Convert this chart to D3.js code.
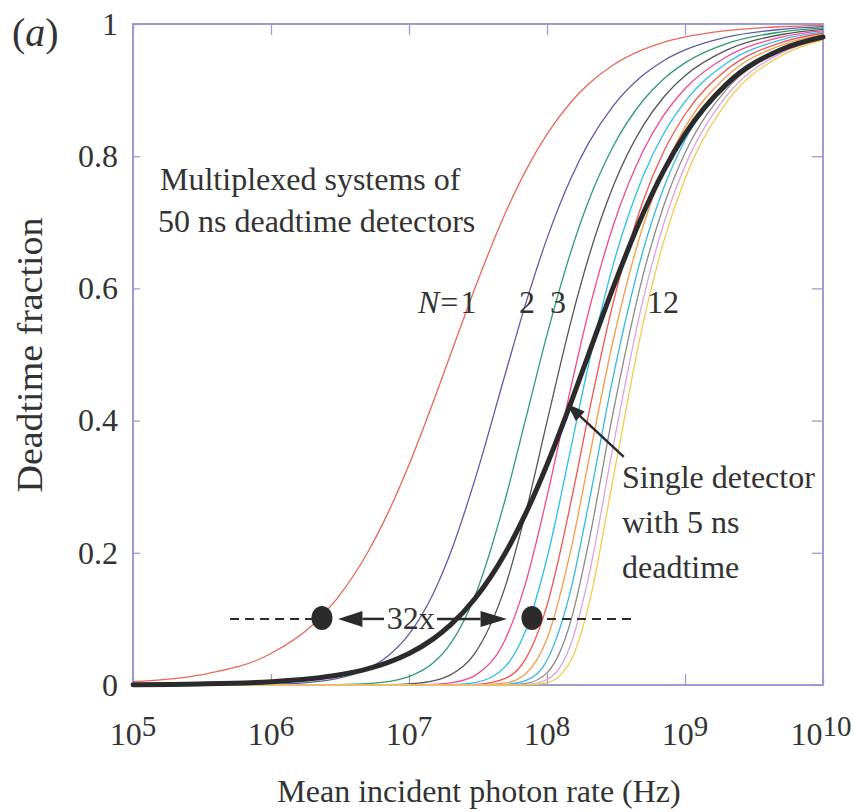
<!DOCTYPE html>
<html>
<head>
<meta charset="utf-8">
<script src="https://cdn.jsdelivr.net/npm/d3@7"></script>
<style>
  body { margin: 0; background: #fff; }
  svg text { font-family: "Liberation Serif", "Times New Roman", serif; fill: #333; }
</style>
</head>
<body>
<svg id="chart" width="854" height="812"></svg>
<script>
// rates sampled along the x axis (Hz)
const rates = [1e5, 3e5, 1e6, 2e6, 3e6, 5e6, 7e6, 1e7, 1.5e7, 2e7, 3e7, 5e7, 7e7,
  1e8, 1.5e8, 2e8, 3e8, 5e8, 7e8, 1e9, 2e9, 5e9, 1e10];

// deadtime fraction for N multiplexed 50 ns detectors, N = 1..12
const n1 = [0.0050, 0.0148, 0.0476, 0.0909, 0.1304, 0.2000, 0.2593, 0.3333, 0.4286, 0.5000, 0.6000, 0.7143, 0.7778,
  0.8333, 0.8824, 0.9091, 0.9375, 0.9615, 0.9722, 0.9804, 0.9901, 0.9960, 0.9980];
const n2 = [0, 0.0001, 0.0012, 0.0045, 0.0097, 0.0244, 0.0434, 0.0769, 0.1385, 0.2000, 0.3103, 0.4717, 0.5765,
  0.6757, 0.7679, 0.8197, 0.8755, 0.9232, 0.9445, 0.9608, 0.9802, 0.9920, 0.9960];
const n3 = [0, 0, 0, 0.0002, 0.0005, 0.0020, 0.0050, 0.0127, 0.0335, 0.0625, 0.1343, 0.2822, 0.4021,
  0.5297, 0.6575, 0.7321, 0.8140, 0.8850, 0.9168, 0.9412, 0.9703, 0.9880, 0.9940];
const n4 = [0, 0, 0, 0, 0, 0.0001, 0.0004, 0.0016, 0.0062, 0.0154, 0.0480, 0.1499, 0.2603,
  0.3983, 0.5521, 0.6467, 0.7533, 0.8469, 0.8892, 0.9217, 0.9604, 0.9841, 0.9920];
const n5 = [0, 0, 0, 0, 0, 0, 0, 0.0002, 0.0009, 0.0031, 0.0142, 0.0697, 0.1541,
  0.2849, 0.4530, 0.5640, 0.6932, 0.8090, 0.8616, 0.9021, 0.9505, 0.9801, 0.9900];
const n6 = [0, 0, 0, 0, 0, 0, 0, 0, 0.0001, 0.0005, 0.0035, 0.0282, 0.0825,
  0.1918, 0.3615, 0.4845, 0.6341, 0.7712, 0.8340, 0.8826, 0.9406, 0.9761, 0.9880];
const n7 = [0, 0, 0, 0, 0, 0, 0, 0, 0, 0.0001, 0.0008, 0.0100, 0.0396,
  0.1205, 0.2792, 0.4090, 0.5761, 0.7336, 0.8066, 0.8631, 0.9307, 0.9721, 0.9860];
const n8 = [0, 0, 0, 0, 0, 0, 0, 0, 0, 0, 0.0001, 0.0031, 0.0170,
  0.0700, 0.2075, 0.3383, 0.5193, 0.6963, 0.7792, 0.8436, 0.9208, 0.9681, 0.9840];
const n9 = [0, 0, 0, 0, 0, 0, 0, 0, 0, 0, 0, 0.0009, 0.0066,
  0.0375, 0.1474, 0.2732, 0.4639, 0.6592, 0.7519, 0.8242, 0.9110, 0.9641, 0.9820];
const n10 = [0, 0, 0, 0, 0, 0, 0, 0, 0, 0, 0, 0.0002, 0.0023,
  0.0184, 0.0995, 0.2146, 0.4103, 0.6223, 0.7246, 0.8047, 0.9011, 0.9602, 0.9800];
const n11 = [0, 0, 0, 0, 0, 0, 0, 0, 0, 0, 0, 0, 0.0007,
  0.0083, 0.0636, 0.1632, 0.3588, 0.5858, 0.6975, 0.7853, 0.8912, 0.9562, 0.9780];
const n12 = [0, 0, 0, 0, 0, 0, 0, 0, 0, 0, 0, 0, 0.0002,
  0.0034, 0.0382, 0.1197, 0.3096, 0.5496, 0.6704, 0.7659, 0.8813, 0.9522, 0.9760];
// single detector with 5 ns deadtime
const single5ns = [0.0005, 0.0015, 0.0050, 0.0099, 0.0148, 0.0244, 0.0338, 0.0476, 0.0698, 0.0909, 0.1304, 0.2000, 0.2593,
  0.3333, 0.4286, 0.5000, 0.6000, 0.7143, 0.7778, 0.8333, 0.9091, 0.9615, 0.9804];

const multiplexed = [n1, n2, n3, n4, n5, n6, n7, n8, n9, n10, n11, n12];
const curveColors = ["#e8675c", "#5c5cab", "#2f9c6c", "#555555", "#f0488e", "#2cbdf0",
  "#f25252", "#f59a48", "#36b6ea", "#8a8a8a", "#dba3dc", "#f7c850"];

const xExponents = [5, 6, 7, 8, 9, 10];
const yTicks = [0, 0.2, 0.4, 0.6, 0.8, 1];

// 32x comparison markers
const dotRates = [2.34e6, 7.78e7];
const dotLevel = 0.1;
const dashRange = [5.05e5, 4.35e8];
const arrowTips = [3.06e6, 5.13e7];
const arrowInner = [4.6e6, 3.3e7];
const ratioRate = 1.03e7;
// pointer to the 5 ns curve
const pointerFrom = [3.6e8, 0.345];
const pointerTo = [1.4e8, 0.425];

const margin = { top: 24, right: 31, bottom: 127, left: 133 },
  width = 854 - margin.left - margin.right,
  height = 812 - margin.top - margin.bottom;

const svg = d3.select("#chart");
const g = svg.append("g").attr("transform", `translate(${margin.left},${margin.top})`);

const x = d3.scaleLog().domain([1e5, 1e10]).range([0, width]);
const y = d3.scaleLinear().domain([0, 1]).range([height, 0]);

const frameColor = "#9c9ccf";

// ticks (inward, on all four sides)
const decades = xExponents.map(e => Math.pow(10, e));
g.append("g").attr("transform", `translate(0,${height})`)
  .call(d3.axisBottom(x).tickValues(decades).tickSize(-11).tickFormat(""));
g.append("g")
  .call(d3.axisTop(x).tickValues(decades).tickSize(-11).tickFormat(""));
g.append("g")
  .call(d3.axisLeft(y).tickValues(yTicks).tickSize(-7).tickPadding(15)
    .tickFormat(d => (d === 0 || d === 1) ? d : d3.format(".1f")(d)));
g.append("g").attr("transform", `translate(${width},0)`)
  .call(d3.axisRight(y).tickValues(yTicks).tickSize(-11).tickFormat(""));

g.selectAll(".domain").remove();
g.selectAll(".tick line").attr("stroke", frameColor).attr("stroke-width", 1.3);
g.selectAll(".tick text").attr("font-size", 32).attr("fill", "#333")
  .attr("font-family", "Liberation Serif, Times New Roman, serif");

g.append("rect")
  .attr("width", width).attr("height", height)
  .attr("fill", "none").attr("stroke", frameColor).attr("stroke-width", 2);

// x tick labels 10^n
const xl = g.selectAll(".xlab").data(xExponents).enter()
  .append("text")
  .attr("class", "xlab")
  .attr("x", d => x(Math.pow(10, d)) + (d === 10 ? -2 : 0))
  .attr("y", height + 60)
  .attr("text-anchor", "middle")
  .attr("font-size", 32);
xl.append("tspan").text("10");
xl.append("tspan").attr("dy", -9).attr("font-size", 29).text(d => d);

// curves
const line = d3.line()
  .x((d, i) => x(rates[i]))
  .y(d => y(d))
  .curve(d3.curveMonotoneX);

g.selectAll(".mux").data(multiplexed).enter()
  .append("path")
  .attr("class", "mux")
  .attr("d", line)
  .attr("fill", "none")
  .attr("stroke", (d, i) => curveColors[i])
  .attr("stroke-width", 1.3);

g.append("path")
  .attr("d", line(single5ns))
  .attr("fill", "none")
  .attr("stroke", "#2b2b2b")
  .attr("stroke-width", 5)
  .attr("stroke-linecap", "round");

// 32x annotation
const ink = "#2b2b2b";
g.selectAll(".dash").data([[dashRange[0], dotRates[0]], [dotRates[1], dashRange[1]]]).enter()
  .append("line")
  .attr("x1", d => x(d[0])).attr("x2", d => x(d[1]))
  .attr("y1", y(dotLevel)).attr("y2", y(dotLevel))
  .attr("stroke", ink).attr("stroke-width", 2)
  .attr("stroke-dasharray", "9,6");

g.selectAll(".seg").data([[arrowInner[0], ratioRate * 0.64], [ratioRate * 1.55, arrowInner[1]]]).enter()
  .append("line")
  .attr("x1", d => x(d[0])).attr("x2", d => x(d[1]))
  .attr("y1", y(dotLevel)).attr("y2", y(dotLevel))
  .attr("stroke", ink).attr("stroke-width", 2.5);

g.selectAll(".head").data([[arrowTips[0], arrowInner[0]], [arrowTips[1], arrowInner[1]]]).enter()
  .append("path")
  .attr("d", d => {
    const tx = x(d[0]), bx = x(d[1]), cy = y(dotLevel);
    return `M${tx},${cy}L${bx},${cy - 8}L${bx},${cy + 8}Z`;
  })
  .attr("fill", ink);

g.append("text")
  .attr("x", x(ratioRate)).attr("y", y(dotLevel) + 10)
  .attr("text-anchor", "middle").attr("font-size", 32)
  .text("32x");

g.selectAll(".dot").data(dotRates).enter()
  .append("ellipse")
  .attr("cx", d => x(d)).attr("cy", y(dotLevel) - 1)
  .attr("rx", 10.5).attr("ry", 12)
  .attr("fill", ink);

// pointer to the single detector curve
const px1 = x(pointerFrom[0]), py1 = y(pointerFrom[1]);
const px2 = x(pointerTo[0]), py2 = y(pointerTo[1]);
const ang = Math.atan2(py2 - py1, px2 - px1);
g.append("line")
  .attr("x1", px1).attr("y1", py1)
  .attr("x2", px2 - 14 * Math.cos(ang)).attr("y2", py2 - 14 * Math.sin(ang))
  .attr("stroke", ink).attr("stroke-width", 2.5);
g.append("path")
  .attr("d", () => {
    const bx = px2 - 18 * Math.cos(ang), by = py2 - 18 * Math.sin(ang);
    const nx = -Math.sin(ang) * 6.5, ny = Math.cos(ang) * 6.5;
    return `M${px2},${py2}L${bx + nx},${by + ny}L${bx - nx},${by - ny}Z`;
  })
  .attr("fill", ink);

// text annotations
const notes = [
  { t: "Multiplexed systems of", x: 160, y: 190 },
  { t: "50 ns deadtime detectors", x: 158, y: 232 },
  { t: "2", x: 519, y: 313 },
  { t: "3", x: 550, y: 313 },
  { t: "12", x: 647, y: 313 },
  { t: "Single detector", x: 622, y: 488 },
  { t: "with 5 ns", x: 622, y: 533 },
  { t: "deadtime", x: 622, y: 578 }
];
svg.selectAll(".note").data(notes).enter()
  .append("text")
  .attr("x", d => d.x).attr("y", d => d.y)
  .attr("font-size", 32)
  .text(d => d.t);

const nl = svg.append("text").attr("x", 418).attr("y", 313).attr("font-size", 32);
nl.append("tspan").attr("font-style", "italic").text("N");
nl.append("tspan").attr("dx", 1).text("=");
nl.append("tspan").attr("dx", 2).text("1");

const pl = svg.append("text").attr("x", 12).attr("y", 46).attr("font-size", 40);
pl.append("tspan").text("(");
pl.append("tspan").attr("font-style", "italic").text("a");
pl.append("tspan").text(")");

// axis titles
svg.append("text")
  .attr("x", 479).attr("y", 802)
  .attr("text-anchor", "middle").attr("font-size", 32)
  .text("Mean incident photon rate (Hz)");

svg.append("text")
  .attr("transform", "translate(42,355) rotate(-90)")
  .attr("text-anchor", "middle").attr("font-size", 35)
  .attr("textLength", 275).attr("lengthAdjust", "spacingAndGlyphs")
  .text("Deadtime fraction");
</script>
</body>
</html>
